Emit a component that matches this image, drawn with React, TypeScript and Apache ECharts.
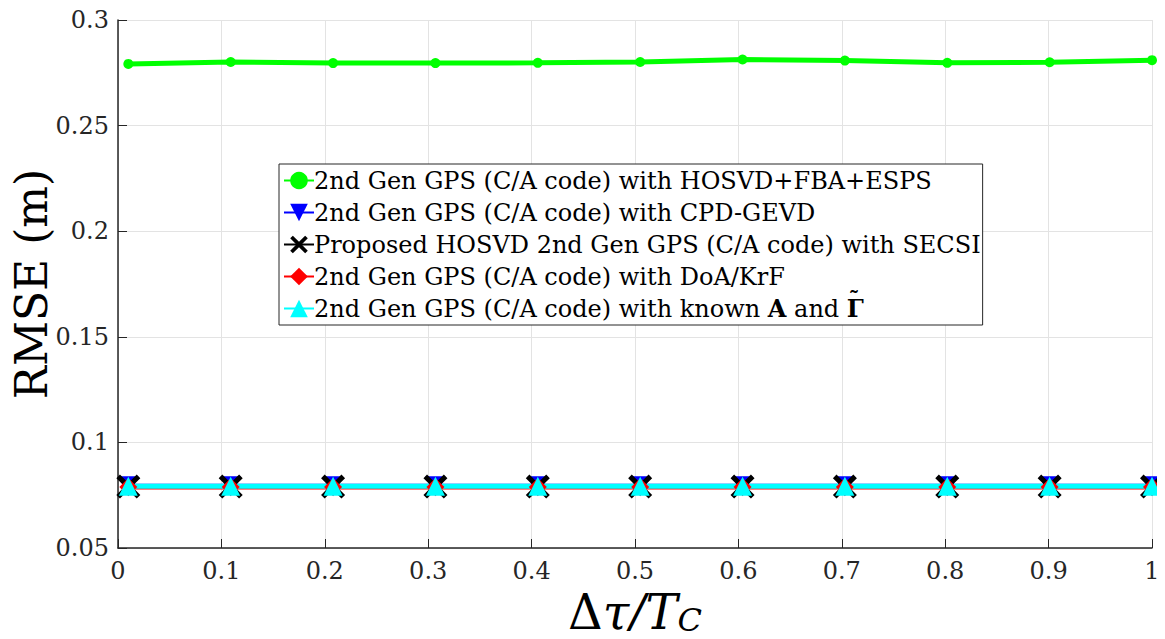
import React, { useEffect, useRef } from "react";
import * as echarts from "echarts";

const xValues = [0.01, 0.109, 0.208, 0.307, 0.406, 0.505, 0.604, 0.703, 0.802, 0.901, 1.0];
const greenValues = [0.2792, 0.2801, 0.2796, 0.2796, 0.2797, 0.2801, 0.2813, 0.2808, 0.2797, 0.28, 0.281];
const blueValues = [0.0792, 0.0792, 0.0792, 0.0792, 0.0792, 0.0792, 0.0792, 0.0792, 0.0792, 0.0792, 0.0792];
const blackValues = [0.0791, 0.0791, 0.0791, 0.0791, 0.0791, 0.0791, 0.0791, 0.0791, 0.0791, 0.0791, 0.0791];
const redValues = [0.0789, 0.0789, 0.0789, 0.0789, 0.0789, 0.0789, 0.0789, 0.0789, 0.0789, 0.0789, 0.0789];
const cyanValues = [0.0792, 0.0792, 0.0792, 0.0792, 0.0792, 0.0792, 0.0792, 0.0792, 0.0792, 0.0792, 0.0792];

const seriesNames = [
  "2nd Gen GPS (C/A code) with HOSVD+FBA+ESPS",
  "2nd Gen GPS (C/A code) with CPD-GEVD",
  "Proposed HOSVD 2nd Gen GPS (C/A code) with SECSI",
  "2nd Gen GPS (C/A code) with DoA/KrF",
  "2nd Gen GPS (C/A code) with known A and Γ̃",
];

const FONT = "DejaVu Serif";
const X_PATH =
  "path://M0,3 L3,0 L10,7 L17,0 L20,3 L13,10 L20,17 L17,20 L10,13 L3,20 L0,17 L7,10 Z";

function pairs(vals: number[]) {
  return xValues.map((x, i) => [x, vals[i]]);
}

export default function App() {
  const ref = useRef<HTMLDivElement>(null);
  useEffect(() => {
    if (!ref.current) return;
    const chart = echarts.init(ref.current, undefined, { renderer: "svg" });
    const mk = (
      name: string,
      vals: number[],
      color: string,
      symbol: string,
      size: number,
      rotate = 0
    ) => ({
      name,
      type: "line",
      data: pairs(vals),
      symbol,
      symbolSize: size,
      symbolRotate: rotate,
      showSymbol: true,
      lineStyle: { color, width: 5 },
      itemStyle: { color, borderColor: color, borderWidth: 0 },
      emphasis: { disabled: true },
    });
    chart.setOption({
      animation: false,
      backgroundColor: "#ffffff",
      grid: {
        left: 118,
        right: 13,
        top: 20,
        bottom: 91,
        containLabel: false,
        outerBoundsMode: "none",
      },
      legend: {
        orient: "vertical",
        left: 279,
        top: 164,
        width: 700,
        backgroundColor: "#ffffff",
        borderColor: "#262626",
        borderWidth: 1,
        borderRadius: 0,
        padding: [4, 2, 4, 4],
        itemGap: 7,
        itemWidth: 30,
        itemHeight: 22,
        selectedMode: false,
        data: seriesNames,
        textStyle: {
          fontFamily: FONT,
          fontSize: 24,
          lineHeight: 25,
          color: "#000",
          padding: [0, 0, 0, -5],
          rich: {
            b: { fontFamily: FONT, fontSize: 24, lineHeight: 25, fontWeight: "bold", color: "#000" },
          },
        },
        formatter: (name: string) => {
          if (name === seriesNames[4]) {
            return "2nd Gen GPS (C/A code) with known {b|A} and {b|Γ}";
          }
          return name;
        },
      },
      graphic: [
        {
          type: "text",
          x: 854,
          y: 299,
          z: 100,
          style: {
            text: "˜",
            fontFamily: FONT,
            fontSize: 22,
            fontWeight: "bold",
            fill: "#000",
            align: "center",
            verticalAlign: "middle",
          },
        },
      ],
      xAxis: {
        type: "value",
        min: 0,
        max: 1,
        interval: 0.1,
        name: "{a|Δ}{i|τ/T}{s|C}",
        nameLocation: "middle",
        nameGap: 35,
        nameTextStyle: {
          rich: {
            a: { fontFamily: FONT, fontSize: 48, lineHeight: 50, color: "#000" },
            i: { fontFamily: FONT, fontSize: 48, lineHeight: 50, fontStyle: "italic", color: "#000" },
            s: { fontFamily: FONT, fontSize: 32, lineHeight: 50, fontStyle: "italic", color: "#000", padding: [16, 0, 0, 0] },
          },
        },
        axisLine: { show: true, lineStyle: { color: "#262626", width: 1.5 } },
        axisTick: { show: true, inside: true, length: 9, lineStyle: { color: "#262626" } },
        axisLabel: {
          fontFamily: FONT,
          fontSize: 24,
          color: "#262626",
          margin: 11,
          formatter: (v: number) => (v === 0 ? "0" : v === 1 ? "1" : String(Math.round(v * 10) / 10)),
        },
        splitLine: { show: true, lineStyle: { color: "#e3e3e3", width: 1 } },
      },
      yAxis: {
        type: "value",
        min: 0.05,
        max: 0.3,
        interval: 0.05,
        name: "RMSE (m)",
        nameLocation: "middle",
        nameGap: 64,
        nameMoveOverlap: false,
        nameTextStyle: { fontFamily: FONT, fontSize: 44, lineHeight: 46, color: "#000" },
        axisLine: { show: true, lineStyle: { color: "#262626", width: 1.5 } },
        axisTick: { show: true, inside: true, length: 9, lineStyle: { color: "#262626" } },
        axisLabel: {
          fontFamily: FONT,
          fontSize: 24,
          color: "#262626",
          margin: 9,
          formatter: (v: number) => String(Math.round(v * 100) / 100),
        },
        splitLine: { show: true, lineStyle: { color: "#e3e3e3", width: 1 } },
      },
      series: [
        mk(seriesNames[0], greenValues, "#00ff00", "circle", 10),
        mk(seriesNames[1], blueValues, "#0000ff", "triangle", 20, 180),
        mk(seriesNames[2], blackValues, "#000000", X_PATH, 24),
        mk(seriesNames[3], redValues, "#ff0000", "diamond", 18),
        mk(seriesNames[4], cyanValues, "#00ffff", "triangle", 19),
      ],
    });
    return () => chart.dispose();
  }, []);
  return <div ref={ref} style={{ width: 1165, height: 639, margin: -8 }} />;
}
